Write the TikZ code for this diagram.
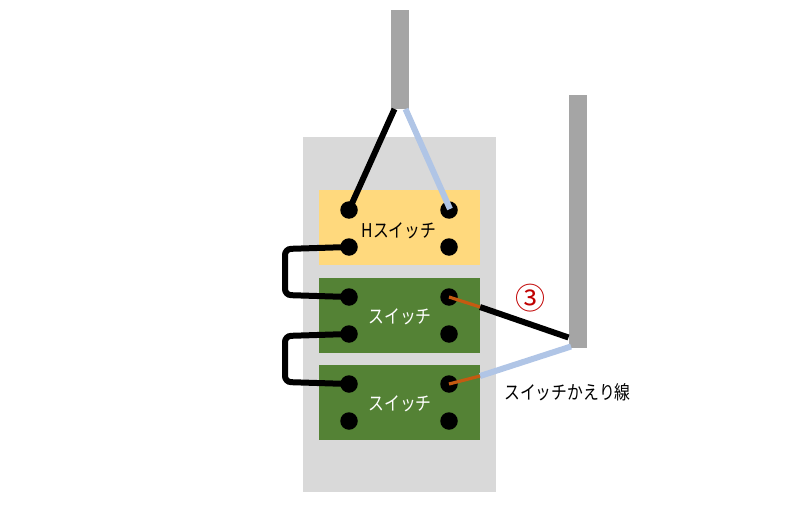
\documentclass[tikz,border=0pt]{standalone}
\usepackage{fontspec}
\setmainfont{Noto Sans CJK JP}
\definecolor{panelgray}{HTML}{D9D9D9}
\definecolor{bargray}{HTML}{A5A5A5}
\definecolor{hyellow}{HTML}{FFD97D}
\definecolor{swgreen}{HTML}{548235}
\definecolor{wireblue}{HTML}{B0C5E6}
\definecolor{wireorange}{HTML}{C55A11}
\definecolor{markred}{HTML}{C00000}
\newcommand{\tallText}[1]{\scalebox{1}[1.2]{#1}}
\tikzset{
  x=1pt,y=-1pt,
  box/.style={rectangle,inner sep=0pt,outer sep=0pt,minimum width=161pt,minimum height=75pt},
  bar/.style={rectangle,fill=bargray,inner sep=0pt,outer sep=0pt,minimum width=18.5pt},
  term/.style={circle,fill=black,inner sep=0pt,outer sep=0pt,minimum size=17.5pt},
  wire/.style={line width=6pt},
  thinwire/.style={line width=3.2pt,wireorange},
  jump/.style={line width=6pt,black,rounded corners=6pt},
  lab/.style={font=\fontsize{15.8}{18}\selectfont,inner sep=0pt}
}
\begin{document}
\begin{tikzpicture}
\useasboundingbox (0,0) rectangle (800,508);
\node[rectangle,fill=panelgray,inner sep=0pt,minimum width=193pt,minimum height=355pt] (panel) at (399.5,314.5) {};
\node[box,fill=hyellow] (hsw) at (399.5,227.5) {};
\node[box,fill=swgreen] (sw1) at (399.5,315) {};
\node[box,fill=swgreen] (sw2) at (399.5,402) {};
\node[bar,minimum height=99pt] (bartop) at (399.75,59.5) {};
\node[bar,minimum height=253pt] (barright) at (577.75,221.5) {};
\coordinate (topL) at (394.5,109);
\coordinate (topR) at (405.5,109);
\coordinate (rightK) at (568.5,337.5);
\coordinate (rightB) at (571,346.5);
\coordinate (edgeK) at (480,307);
\coordinate (edgeB) at (480,376);
\foreach \n/\x/\y in {a/349/210,b/449/210,c/349/247,d/449/247,e/349/297,f/449/297,g/349/334,h/449/334,i/349/384,j/449/384,k/349/421,l/449/421}
  \node[term] (\n) at (\x,\y) {};
\draw[wire,black] (topL) -- (a.center);
\draw[wire,wireblue] (topR) -- (450,209);
\draw[jump] (c.center) -- (285,249) -- (285,295) -- (e.center);
\draw[jump] (g.center) -- (285,336) -- (285,382) -- (i.center);
\draw[wire,black] (edgeK) -- (rightK);
\draw[wire,wireblue] (edgeB) -- (rightB);
\draw[thinwire] (f.center) -- (edgeK);
\draw[thinwire] (j.center) -- (edgeB);
\node[lab,text=black] (t1) at (399,231) {\tallText{Hスイッチ}};
\node[lab,text=white] (t2) at (400,317) {\tallText{スイッチ}};
\node[lab,text=white] (t3) at (400,404) {\tallText{スイッチ}};
\node[lab] (t4) at (567.5,392) {\tallText{スイッチかえり線}};
\node[font=\fontsize{30}{32}\selectfont,text=markred,inner sep=0pt] (t5) at (530,298) {③};
\end{tikzpicture}
\end{document}
